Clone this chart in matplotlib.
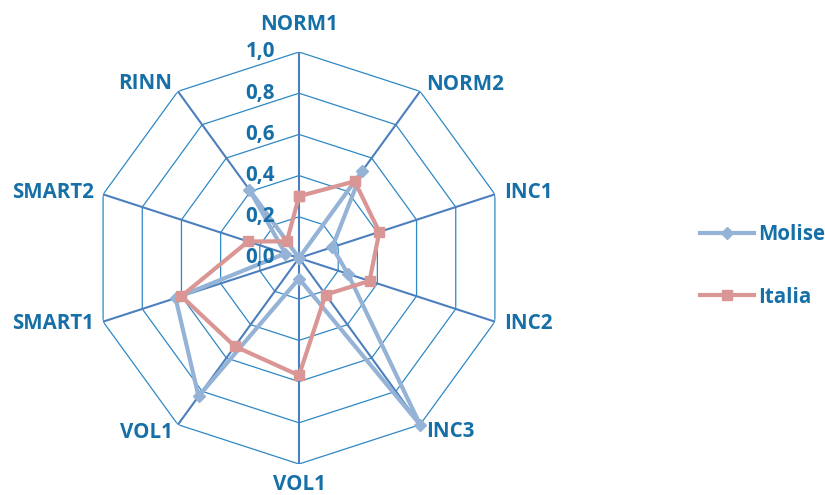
import numpy as np
import matplotlib
matplotlib.use("Agg")
import matplotlib.pyplot as plt

categories = ["NORM1", "NORM2", "INC1", "INC2", "INC3", "VOL1", "VOL1", "SMART1", "SMART2", "RINN"]
molise = [0.00, 0.52, 0.17, 0.25, 1.00, 0.10, 0.83, 0.63, 0.07, 0.41]
italia = [0.30, 0.46, 0.41, 0.36, 0.22, 0.57, 0.53, 0.60, 0.26, 0.10]
ring_values = [0.2, 0.4, 0.6, 0.8, 1.0]
tick_labels = ["0,0", "0,2", "0,4", "0,6", "0,8", "1,0"]

TXT = "#166FA6"
FONT = "Open Sans"
FS = 14.8

fig = plt.figure(figsize=(8.25, 4.95), dpi=100)
W, H = 825, 495
cx, cy, R = 299, 258, 206
ax = fig.add_axes([(cx - R) / W, (H - cy - R) / H, 2 * R / W, 2 * R / H], projection="polar")
ax.set_theta_zero_location("N")
ax.set_theta_direction(-1)
ax.set_ylim(0, 1)
ax.grid(False)
ax.set_xticks([])
ax.set_yticks([])
ax.spines["polar"].set_visible(False)
ax.patch.set_visible(False)

n = len(categories)
theta = np.arange(n) * 2 * np.pi / n
theta_c = np.append(theta, theta[0])

# polygon rings
for rv in ring_values:
    ax.plot(theta_c, [rv] * (n + 1), color="#2F88C4", lw=0.9, zorder=1)
# spokes
for t in theta:
    ax.plot([t, t], [0, 1], color="#4C7FBD", lw=1.5, zorder=1.5)

# tick labels
for i, lab in enumerate(tick_labels):
    ax.annotate(lab, xy=(0, i * 0.2), xytext=(-24, 0), textcoords="offset pixels",
                ha="right", va="center", fontsize=FS, fontweight="bold",
                color=TXT, family=FONT, zorder=5)

# category labels
offsets = [(0, 27, "center"), (6, 7, "left"), (9, 2, "left"), (9, -2, "left"),
           (6, -7, "left"), (0, -21, "center"), (-5, -8, "right"), (-9, -2, "right"),
           (-9, 2, "right"), (-6, 8, "right")]
for t, lab, (dx, dy, ha) in zip(theta, categories, offsets):
    ax.annotate(lab, xy=(t, 1.0), xytext=(dx, dy), textcoords="offset pixels",
                ha=ha, va="center", fontsize=FS, fontweight="bold",
                color=TXT, family=FONT, annotation_clip=False)

l1, = ax.plot(theta_c, molise + [molise[0]], color="#95B3D7", lw=3, marker="D",
              ms=6.5, label="Molise", zorder=3, clip_on=False)
l2, = ax.plot(theta_c, italia + [italia[0]], color="#D99694", lw=3, marker="s",
              ms=7.5, label="Italia", zorder=4, clip_on=False)

leg = fig.legend(handles=[l1, l2], loc="center left", bbox_to_anchor=(700 / W, 1 - 266 / H),
                 frameon=False, prop={"family": FONT, "weight": "bold", "size": FS},
                 handlelength=2.65, handletextpad=0.2, labelspacing=2.0,
                 borderpad=0, borderaxespad=0)
for t in leg.get_texts():
    t.set_color(TXT)

fig.savefig("out.png", dpi=100)
